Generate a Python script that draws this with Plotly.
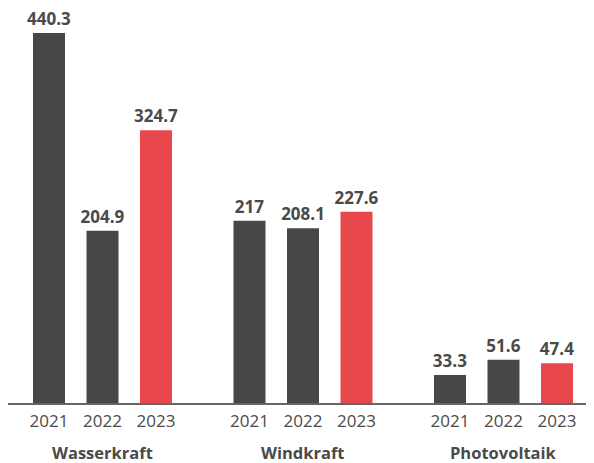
import plotly.graph_objects as go

groups = ["Wasserkraft", "Windkraft", "Photovoltaik"]
years = ["2021", "2022", "2023"]
values_2021 = [440.3, 217, 33.3]
values_2022 = [204.9, 208.1, 51.6]
values_2023 = [324.7, 227.6, 47.4]
series = [values_2021, values_2022, values_2023]
colors = ["#474746", "#474746", "#E8474C"]

GROUP_STEP = 200.5
BAR_STEP = 53.5
OFFSET = 49
FONT = "Open Sans"
TXT = "#4a4a4a"

fig = go.Figure()
tickvals, ticktext = [], []
for i, (yr, vals, col) in enumerate(zip(years, series, colors)):
    xs = [OFFSET + g * GROUP_STEP + i * BAR_STEP for g in range(len(groups))]
    tickvals += xs
    ticktext += [yr] * len(xs)
    fig.add_trace(go.Bar(
        x=xs, y=vals, width=32, marker_color=col, marker_line_width=0,
        text=[f"{v:g}" for v in vals], textposition="outside", cliponaxis=False,
        constraintext="none",
        textfont=dict(family=FONT, size=17, color=TXT, weight="bold"),
        showlegend=False, hoverinfo="skip",
    ))

for g, name in enumerate(groups):
    fig.add_annotation(
        x=OFFSET + g * GROUP_STEP + BAR_STEP, y=-0.125, xref="x", yref="paper",
        text=f"<b>{name}</b>", showarrow=False, yanchor="middle",
        font=dict(family=FONT, size=16.5, color=TXT),
    )

fig.update_layout(
    width=586, height=455,
    margin=dict(l=0, r=0, t=0, b=60),
    paper_bgcolor="white", plot_bgcolor="white",
    xaxis=dict(range=[8, 594], tickvals=tickvals, ticktext=ticktext,
               showline=True, linecolor="#666666", linewidth=1.5,
               showgrid=False, zeroline=False, ticks="", ticklabelstandoff=2,
               tickfont=dict(family=FONT, size=17, color=TXT)),
    yaxis=dict(range=[0, 470.1], visible=False, showgrid=False, zeroline=False),
)

fig.write_html("out.html")
